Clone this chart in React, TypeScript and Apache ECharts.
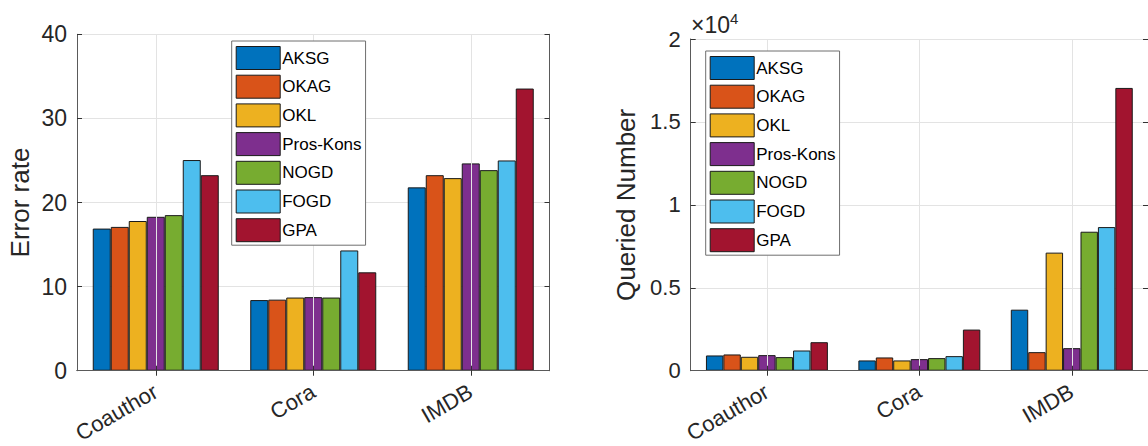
import React, { useEffect, useRef } from "react";
import * as echarts from "echarts";

const categories = ["Coauthor", "Cora", "IMDB"];
const methods = ["AKSG", "OKAG", "OKL", "Pros-Kons", "NOGD", "FOGD", "GPA"];
const colors = ["#0072BD", "#D95319", "#EDB120", "#7E2F8E", "#77AC30", "#4DBEEE", "#A2142F"];

// Error rate per method: [Coauthor, Cora, IMDB]
const errAKSG = [16.9, 8.4, 21.8];
const errOKAG = [17.1, 8.45, 23.25];
const errOKL = [17.8, 8.7, 22.9];
const errPros = [18.3, 8.75, 24.65];
const errNOGD = [18.5, 8.7, 23.85];
const errFOGD = [25.05, 14.3, 25.0];
const errGPA = [23.25, 11.7, 33.55];

// Queried number per method: [Coauthor, Cora, IMDB]
const qAKSG = [920, 620, 3680];
const qOKAG = [980, 800, 1120];
const qOKL = [840, 620, 7120];
const qPros = [940, 700, 1360];
const qNOGD = [820, 760, 8380];
const qFOGD = [1220, 880, 8660];
const qGPA = [1720, 2480, 17050];

const errorTicks = [0, 10, 20, 30, 40];
const queriedTicks = [0, 0.5, 1, 1.5, 2];

const errData = [errAKSG, errOKAG, errOKL, errPros, errNOGD, errFOGD, errGPA];
const qData = [qAKSG, qOKAG, qOKL, qPros, qNOGD, qFOGD, qGPA];

const FONT = "Liberation Sans, Arial, Helvetica, sans-serif";
const TXT = "#262626";
const BOX = "#5a5a5a";
const GRIDC = "#e3e3e3";

export default function App() {
  const ref = useRef<HTMLDivElement>(null);
  useEffect(() => {
    if (!ref.current) return;
    const chart = echarts.init(ref.current, null, { renderer: "svg" });

    const grids = [
      { left: 77, top: 34.3, width: 472.5, height: 338.7 },
      { left: 690.7, top: 39, width: 466, height: 333.7 },
    ];

    const xAxes: any[] = [];
    const yAxes: any[] = [];
    [0, 1].forEach((g) => {
      xAxes.push({
        type: "category",
        gridIndex: g,
        data: categories,
        position: "bottom",
        boundaryGap: true,
        axisLine: { show: true, lineStyle: { color: "#333", width: 1 } },
        axisTick: { show: true, inside: true, alignWithLabel: true, length: 5, lineStyle: { color: "#333" } },
        axisLabel: { rotate: 30, fontSize: 22, color: TXT, fontFamily: FONT, margin: 19 },
        splitLine: { show: true, alignWithLabel: true, lineStyle: { color: GRIDC, width: 1 } },
        z: 5,
      });
      xAxes.push({
        type: "category",
        gridIndex: g,
        data: categories,
        position: "top",
        boundaryGap: true,
        axisLine: { show: true, lineStyle: { color: BOX, width: 1 } },
        axisTick: { show: true, inside: true, alignWithLabel: true, length: 5, lineStyle: { color: "#333" } },
        axisLabel: { show: false },
        splitLine: { show: false },
        z: 5,
      });
    });

    yAxes.push({
      type: "value",
      gridIndex: 0,
      min: 0,
      max: 40,
      interval: 10,
      name: "Error rate",
      nameLocation: "middle",
      nameGap: 44,
      nameTextStyle: { fontSize: 26, color: TXT, fontFamily: FONT },
      axisLine: { show: true, lineStyle: { color: BOX, width: 1 } },
      axisTick: { show: true, inside: true, length: 5, lineStyle: { color: "#333" } },
      axisLabel: {
        fontSize: 23,
        color: TXT,
        fontFamily: FONT,
        margin: 10,
        formatter: (v: number) => String(errorTicks.find((t) => t === v) ?? v),
      },
      splitLine: { show: true, lineStyle: { color: GRIDC, width: 1 } },
    });
    yAxes.push({
      type: "value",
      gridIndex: 0,
      position: "right",
      min: 0,
      max: 40,
      interval: 10,
      axisLine: { show: true, lineStyle: { color: BOX, width: 1 } },
      axisTick: { show: true, inside: true, length: 5, lineStyle: { color: "#333" } },
      axisLabel: { show: false },
      splitLine: { show: false },
    });
    yAxes.push({
      type: "value",
      gridIndex: 1,
      min: 0,
      max: 20000,
      interval: 5000,
      name: "Queried Number",
      nameLocation: "middle",
      nameGap: 52,
      nameTextStyle: { fontSize: 26, color: TXT, fontFamily: FONT },
      axisLine: { show: true, lineStyle: { color: BOX, width: 1 } },
      axisTick: { show: true, inside: true, length: 5, lineStyle: { color: "#333" } },
      axisLabel: {
        fontSize: 22,
        color: TXT,
        fontFamily: FONT,
        margin: 10,
        formatter: (v: number) => String(queriedTicks[Math.round(v / 5000)] ?? v / 10000),
      },
      splitLine: { show: true, lineStyle: { color: GRIDC, width: 1 } },
    });
    yAxes.push({
      type: "value",
      gridIndex: 1,
      position: "right",
      min: 0,
      max: 20000,
      interval: 5000,
      axisLine: { show: true, lineStyle: { color: BOX, width: 1 } },
      axisTick: { show: true, inside: true, length: 5, lineStyle: { color: "#333" } },
      axisLabel: { show: false },
      splitLine: { show: false },
    });

    const series: any[] = [];
    methods.forEach((m, i) => {
      series.push({
        type: "bar",
        name: m,
        xAxisIndex: 0,
        yAxisIndex: 0,
        data: errData[i],
        barGap: "0%",
        barCategoryGap: "20%",
        itemStyle: { color: colors[i], borderColor: "#1a1a1a", borderWidth: 1 },
        z: 3,
      });
    });
    methods.forEach((m, i) => {
      series.push({
        type: "bar",
        name: m,
        xAxisIndex: 2,
        yAxisIndex: 2,
        data: qData[i],
        barGap: "0%",
        barCategoryGap: "20%",
        itemStyle: { color: colors[i], borderColor: "#1a1a1a", borderWidth: 1 },
        z: 3,
      });
    });

    const legendBase = {
      orient: "vertical",
      itemWidth: 44,
      itemHeight: 23,
      itemGap: 4.7,
      padding: [5, 4, 3, 4],
      borderColor: "#6e6e6e",
      borderWidth: 1,
      backgroundColor: "#ffffff",
      selectedMode: false,
      icon: "rect",
      itemStyle: { borderColor: "#1a1a1a", borderWidth: 1 },
      textStyle: { fontSize: 17, lineHeight: 20, color: "#000", fontFamily: FONT, padding: [0, 0, 0, -3] },
      data: methods,
      z: 10,
    };

    chart.setOption({
      animation: false,
      backgroundColor: "#ffffff",
      grid: grids,
      xAxis: xAxes,
      yAxis: yAxes,
      series,
      legend: [
        { ...legendBase, left: 231.7, top: 41 },
        { ...legendBase, left: 705.7, top: 51 },
      ],
      graphic: [
        {
          type: "text",
          left: 691,
          top: 11,
          style: {
            text: "{a|×10}{b|4}",
            rich: {
              a: { fontSize: 23, fill: TXT, fontFamily: FONT, verticalAlign: "bottom" },
              b: { fontSize: 15, fill: TXT, fontFamily: FONT, verticalAlign: "top", padding: [0, 0, 10, 0] },
            },
          },
        },
      ],
    });
    return () => chart.dispose();
  }, []);

  return (
    <div
      ref={ref}
      style={{ position: "absolute", left: 0, top: 0, width: 1148, height: 446, background: "#fff" }}
    />
  );
}
